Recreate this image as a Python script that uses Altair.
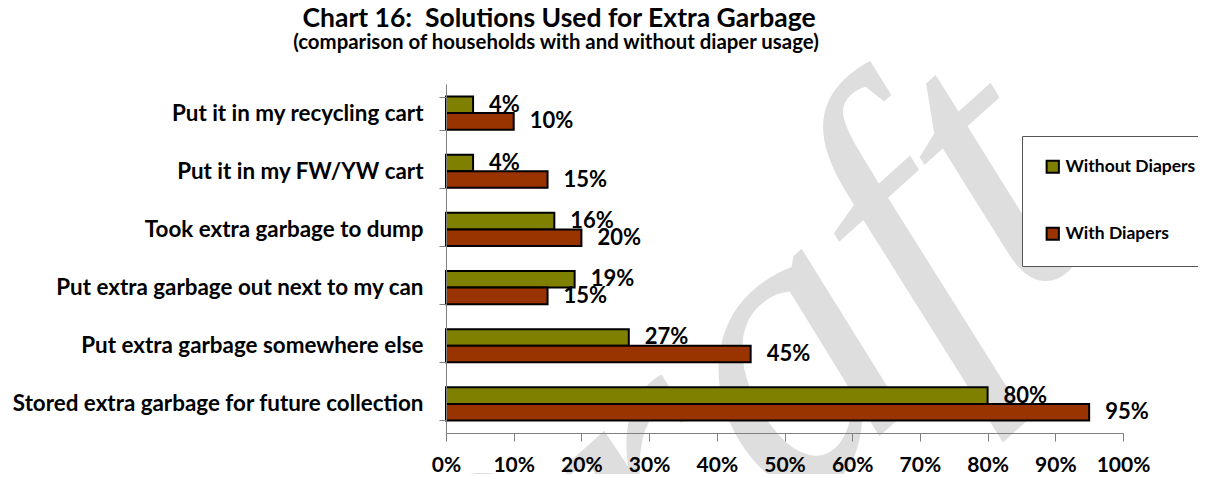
import altair as alt
import pandas as pd

title_text = ["Chart 16:\u00a0 Solutions Used for Extra Garbage"]
subtitle_text = ["(comparison of households with and without diaper usage)"]
categories = [
    "Put it in my recycling cart",
    "Put it in my FW/YW cart",
    "Took extra garbage to dump",
    "Put extra garbage out next to my can",
    "Put extra garbage somewhere else",
    "Stored extra garbage for future collection",
]
series = ["Without Diapers", "With Diapers"]
without_diapers = [0.04, 0.04, 0.16, 0.19, 0.27, 0.80]
with_diapers = [0.10, 0.15, 0.20, 0.15, 0.45, 0.95]
colors = ["#808000", "#993300"]
watermark = ["Draft"]

rows = []
for c, a, b in zip(categories, without_diapers, with_diapers):
    rows.append({"cat": c, "series": series[0], "v": a})
    rows.append({"cat": c, "series": series[1], "v": b})
df = pd.DataFrame(rows)

FONT = "Lato"

y_enc = alt.Y(
    "cat:N",
    sort=categories,
    scale=alt.Scale(paddingInner=0.43, paddingOuter=0.215),
    axis=alt.Axis(
        title=None,
        labelFont=FONT,
        labelFontSize=22.4,
        labelFontWeight="bold",
        labelColor="black",
        labelPadding=16,
        labelLimit=600,
        tickBand="extent",
        tickSize=7,
        tickColor="#808080",
        domainColor="#808080",
        grid=False,
        zindex=1,
    ),
)
yoff = alt.YOffset("series:N", sort=series, scale=alt.Scale(domain=series))
x_enc = alt.X(
    "v:Q",
    scale=alt.Scale(domain=[0, 1]),
    axis=alt.Axis(
        title=None,
        format=".0%",
        values=[i / 10 for i in range(11)],
        labelFont=FONT,
        labelFontSize=21,
        labelFontWeight="bold",
        labelColor="black",
        labelPadding=13,
        tickSize=8,
        tickColor="#808080",
        domainColor="#808080",
        grid=False,
        labelFlush=False,
        zindex=1,
    ),
)

base = alt.Chart(df)

bars = base.mark_bar(stroke="black", strokeWidth=2).encode(
    x=x_enc,
    y=y_enc,
    yOffset=yoff,
    color=alt.Color(
        "series:N",
        sort=series,
        scale=alt.Scale(domain=series, range=colors),
        legend=alt.Legend(
            title=None,
            orient="none",
            legendX=576,
            legendY=52,
            direction="vertical",
            symbolType="square",
            symbolSize=150,
            symbolStrokeColor="black",
            symbolStrokeWidth=2,
            labelFont=FONT,
            labelFontSize=17.5,
            labelFontWeight="bold",
            labelColor="black",
            rowPadding=46,
            padding=22,
            strokeColor="#555555",
            fillColor="white",
            labelOffset=4,
            zindex=2,
        ),
    ),
)

labels = base.mark_text(
    align="left", baseline="middle", dx=16, font=FONT, fontSize=22, fontWeight="bold", color="black"
).encode(
    x="v:Q",
    y=alt.Y("cat:N", sort=categories),
    yOffset=yoff,
    text=alt.Text("v:Q", format=".0%"),
)

wm = alt.Chart(pd.DataFrame({"w": watermark})).mark_text(
    font="Liberation Serif",
    fontStyle="italic",
    fontSize=410,
    color="#dedede",
    angle=318,
    align="center",
    baseline="middle",
).encode(text="w:N", x=alt.value(252), y=alt.value(350))

title = alt.Chart(pd.DataFrame({"t": title_text})).mark_text(
    font=FONT, fontSize=26.5, fontWeight="bold", color="black", align="center", baseline="alphabetic"
).encode(text="t:N", x=alt.value(113), y=alt.value(-57))

subtitle = alt.Chart(pd.DataFrame({"t": subtitle_text})).mark_text(
    font=FONT, fontSize=20.4, fontWeight="bold", color="black", align="center", baseline="alphabetic"
).encode(text="t:N", x=alt.value(110), y=alt.value(-35))

chart = (
    alt.layer(wm, bars, labels, title, subtitle)
    .properties(
        width=677,
        height=349,
        padding={"left": 438, "top": 76, "right": 75, "bottom": 41},
        autosize=alt.AutoSizeParams(type="none"),
    )
    .configure_view(stroke=None)
)

chart.save("out.html", embed_options={"renderer": "svg", "actions": False})
